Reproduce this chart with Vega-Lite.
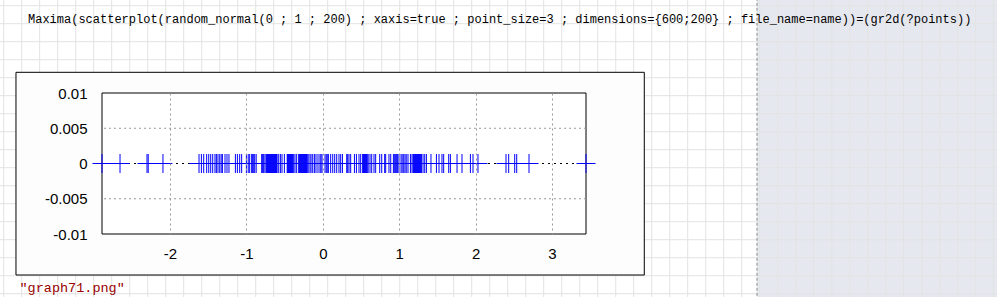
{
  "$schema": "https://vega.github.io/schema/vega-lite/v6.json",
  "width": 484,
  "height": 141,
  "autosize": {"type": "none"},
  "padding": {"left": 102, "top": 93, "right": 411, "bottom": 63},
  "background": "white",
  "title": {
    "text": "Maxima(scatterplot(random_normal(0 ; 1 ; 200) ; xaxis=true ; point_size=3 ; dimensions={600;200} ; file_name=name))=(gr2d(?points))",
    "anchor": "start",
    "frame": "group",
    "dx": -74,
    "offset": 0,
    "dy": 38,
    "baseline": "alphabetic",
    "font": "Liberation Mono",
    "fontSize": 12,
    "fontWeight": "normal",
    "color": "#000000"
  },
  "config": {
    "view": {"stroke": null},
    "axis": {
      "labelFont": "Liberation Sans",
      "labelFontSize": 15,
      "labelColor": "#000000",
      "ticks": false,
      "domain": false,
      "gridColor": "#999999",
      "gridDash": [2, 3],
      "gridWidth": 1
    }
  },
  "datasets": {
    "pts": [
      {"x": -2.89}, {"x": -2.654}, {"x": -2.301}, {"x": -2.285}, {"x": -2.092},
      {"x": -1.620}, {"x": -1.589}, {"x": -1.559}, {"x": -1.520}, {"x": -1.493},
      {"x": -1.467}, {"x": -1.441}, {"x": -1.411}, {"x": -1.393}, {"x": -1.372},
      {"x": -1.349}, {"x": -1.330}, {"x": -1.314}, {"x": -1.280}, {"x": -1.254},
      {"x": -1.228}, {"x": -1.144}, {"x": -1.118}, {"x": -1.088}, {"x": -1.062},
      {"x": -1.000}, {"x": -0.976}, {"x": -0.957}, {"x": -0.931}, {"x": -0.918},
      {"x": -0.904}, {"x": -0.891}, {"x": -0.872}, {"x": -0.800}, {"x": -0.787},
      {"x": -0.774}, {"x": -0.757}, {"x": -0.741}, {"x": -0.734}, {"x": -0.728},
      {"x": -0.721}, {"x": -0.715}, {"x": -0.708}, {"x": -0.702}, {"x": -0.695},
      {"x": -0.688}, {"x": -0.682}, {"x": -0.675}, {"x": -0.669}, {"x": -0.662},
      {"x": -0.656}, {"x": -0.649}, {"x": -0.643}, {"x": -0.636}, {"x": -0.630},
      {"x": -0.623}, {"x": -0.617}, {"x": -0.610}, {"x": -0.604}, {"x": -0.599},
      {"x": -0.577}, {"x": -0.555}, {"x": -0.534}, {"x": -0.503}, {"x": -0.466},
      {"x": -0.459}, {"x": -0.453}, {"x": -0.446}, {"x": -0.440}, {"x": -0.433},
      {"x": -0.427}, {"x": -0.420}, {"x": -0.414}, {"x": -0.407}, {"x": -0.401},
      {"x": -0.394}, {"x": -0.381}, {"x": -0.364}, {"x": -0.342}, {"x": -0.315},
      {"x": -0.309}, {"x": -0.302}, {"x": -0.296}, {"x": -0.289}, {"x": -0.283},
      {"x": -0.276}, {"x": -0.270}, {"x": -0.263}, {"x": -0.257}, {"x": -0.250},
      {"x": -0.243}, {"x": -0.237}, {"x": -0.230}, {"x": -0.224}, {"x": -0.217},
      {"x": -0.211}, {"x": -0.204}, {"x": -0.191}, {"x": -0.168}, {"x": -0.154},
      {"x": -0.132}, {"x": -0.110}, {"x": -0.089}, {"x": -0.063}, {"x": -0.037},
      {"x": -0.024}, {"x": -0.010}, {"x": 0.029}, {"x": 0.045}, {"x": 0.058},
      {"x": 0.073}, {"x": 0.103}, {"x": 0.130}, {"x": 0.156}, {"x": 0.182},
      {"x": 0.212}, {"x": 0.234}, {"x": 0.257}, {"x": 0.313}, {"x": 0.326},
      {"x": 0.343}, {"x": 0.365}, {"x": 0.414}, {"x": 0.440}, {"x": 0.474},
      {"x": 0.496}, {"x": 0.522}, {"x": 0.529}, {"x": 0.535}, {"x": 0.542},
      {"x": 0.548}, {"x": 0.555}, {"x": 0.562}, {"x": 0.568}, {"x": 0.575},
      {"x": 0.581}, {"x": 0.594}, {"x": 0.618}, {"x": 0.640}, {"x": 0.670},
      {"x": 0.692}, {"x": 0.745}, {"x": 0.771}, {"x": 0.810}, {"x": 0.823},
      {"x": 0.866}, {"x": 0.889}, {"x": 0.924}, {"x": 0.941}, {"x": 0.954},
      {"x": 0.967}, {"x": 0.980}, {"x": 0.997}, {"x": 1.024}, {"x": 1.039},
      {"x": 1.059}, {"x": 1.076}, {"x": 1.092}, {"x": 1.115}, {"x": 1.147},
      {"x": 1.168}, {"x": 1.183}, {"x": 1.190}, {"x": 1.196}, {"x": 1.203},
      {"x": 1.209}, {"x": 1.216}, {"x": 1.223}, {"x": 1.230}, {"x": 1.236},
      {"x": 1.243}, {"x": 1.249}, {"x": 1.256}, {"x": 1.262}, {"x": 1.269},
      {"x": 1.275}, {"x": 1.282}, {"x": 1.291}, {"x": 1.312}, {"x": 1.334},
      {"x": 1.356}, {"x": 1.416}, {"x": 1.487}, {"x": 1.521}, {"x": 1.560},
      {"x": 1.582}, {"x": 1.648}, {"x": 1.670}, {"x": 1.757}, {"x": 1.822},
      {"x": 1.932}, {"x": 1.966}, {"x": 2.031}, {"x": 2.398}, {"x": 2.433},
      {"x": 2.512}, {"x": 2.538}, {"x": 2.699}, {"x": 3.445}
    ],
    "wgx": [
      {"gx": -4.177}, {"gx": -3.941}, {"gx": -3.706}, {"gx": -3.470}, {"gx": -3.234},
      {"gx": -2.999}, {"gx": -2.763}, {"gx": -2.527}, {"gx": -2.292}, {"gx": -2.056},
      {"gx": -1.821}, {"gx": -1.585}, {"gx": -1.349}, {"gx": -1.114}, {"gx": -0.878},
      {"gx": -0.643}, {"gx": -0.407}, {"gx": -0.171}, {"gx": 0.064}, {"gx": 0.300},
      {"gx": 0.535}, {"gx": 0.771}, {"gx": 1.007}, {"gx": 1.242}, {"gx": 1.478},
      {"gx": 1.713}, {"gx": 1.949}, {"gx": 2.185}, {"gx": 2.420}, {"gx": 2.656},
      {"gx": 2.891}, {"gx": 3.127}, {"gx": 3.363}, {"gx": 3.598}, {"gx": 3.834},
      {"gx": 4.069}, {"gx": 4.305}, {"gx": 4.541}, {"gx": 4.776}, {"gx": 5.012},
      {"gx": 5.247}, {"gx": 5.483}, {"gx": 5.719}, {"gx": 5.954}, {"gx": 6.190},
      {"gx": 6.425}, {"gx": 6.661}, {"gx": 6.897}, {"gx": 7.132}, {"gx": 7.368},
      {"gx": 7.603}, {"gx": 7.839}, {"gx": 8.075}, {"gx": 8.310}, {"gx": 8.546},
      {"gx": 8.781}
    ],
    "wgy": [
      {"gy": 0.02238}, {"gy": 0.01983}, {"gy": 0.01728}, {"gy": 0.01472}, {"gy": 0.01217},
      {"gy": 0.00962}, {"gy": 0.00706}, {"gy": 0.00451}, {"gy": 0.00196}, {"gy": -0.00060},
      {"gy": -0.00315}, {"gy": -0.00570}, {"gy": -0.00826}, {"gy": -0.01081}, {"gy": -0.01336},
      {"gy": -0.01592}, {"gy": -0.01847}
    ],
    "ygrid": [{"v": -0.005}, {"v": 0.005}],
    "one": [{}]
  },
  "data": {"name": "pts"},
  "layer": [
    {
      "data": {"name": "one"},
      "mark": {"type": "rect", "fill": "#e6e8f0", "stroke": null},
      "encoding": {
        "x": {"datum": 5.683, "type": "quantitative", "scale": {"domain": [-2.89, 3.445], "nice": false, "zero": false},
          "axis": {"zindex": 1, "grid": true, "values": [-2, -1, 0, 1, 2, 3], "format": "~g", "labelExpr": "replace(datum.label, '\u2212', '-')", "labelPadding": 12, "title": "\"graph71.png\"", "titleX": -83, "titleY": 53, "titleAlign": "left", "titleBaseline": "middle", "titleFont": "Liberation Mono", "titleFontSize": 13.5, "titleFontWeight": "normal", "titleColor": "#990000"}},
        "x2": {"datum": 8.9},
        "y": {"datum": 0.0235, "type": "quantitative", "scale": {"domain": [-0.01, 0.01], "nice": false, "zero": false},
          "axis": {"zindex": 1, "grid": false, "tickCount": 4, "format": "~g", "labelExpr": "replace(datum.label, '\u2212', '-')", "labelPadding": 15, "labelOverlap": false, "labelFlush": false, "title": null}},
        "y2": {"datum": -0.0195}
      }
    },
    {
      "data": {"name": "wgx"},
      "mark": {"type": "rule", "color": "#e3e3e3", "strokeWidth": 1},
      "encoding": {
        "x": {"field": "gx", "type": "quantitative", "scale": {"domain": [-2.89, 3.445], "nice": false, "zero": false}},
        "y": {"datum": 0.0235, "type": "quantitative", "scale": {"domain": [-0.01, 0.01], "nice": false, "zero": false}},
        "y2": {"datum": -0.0195}
      }
    },
    {
      "data": {"name": "wgy"},
      "mark": {"type": "rule", "color": "#e3e3e3", "strokeWidth": 1},
      "encoding": {
        "y": {"field": "gy", "type": "quantitative", "scale": {"domain": [-0.01, 0.01], "nice": false, "zero": false}},
        "x": {"datum": -4.25, "type": "quantitative", "scale": {"domain": [-2.89, 3.445], "nice": false, "zero": false}},
        "x2": {"datum": 8.9}
      }
    },
    {
      "data": {"name": "one"},
      "mark": {"type": "rule", "color": "#8a8a8a", "strokeDash": [3, 2], "strokeWidth": 1},
      "encoding": {
        "x": {"datum": 5.683, "type": "quantitative", "scale": {"domain": [-2.89, 3.445], "nice": false, "zero": false}},
        "y": {"datum": 0.0235, "type": "quantitative", "scale": {"domain": [-0.01, 0.01], "nice": false, "zero": false}},
        "y2": {"datum": -0.0195}
      }
    },
    {
      "data": {"name": "one"},
      "mark": {"type": "rect", "fill": "#fdfdfd", "stroke": "#000000", "strokeWidth": 1},
      "encoding": {
        "x": {"datum": -4.016, "type": "quantitative", "scale": {"domain": [-2.89, 3.445], "nice": false, "zero": false}},
        "x2": {"datum": 4.208},
        "y": {"datum": 0.012936, "type": "quantitative", "scale": {"domain": [-0.01, 0.01], "nice": false, "zero": false}},
        "y2": {"datum": -0.015816}
      }
    },
    {
      "data": {"name": "one"},
      "mark": {"type": "rect", "fill": "#ffffff", "stroke": "#000000", "strokeWidth": 1},
      "encoding": {
        "x": {"datum": -2.89, "type": "quantitative", "scale": {"domain": [-2.89, 3.445], "nice": false, "zero": false}},
        "x2": {"datum": 3.445},
        "y": {"datum": 0.01, "type": "quantitative", "scale": {"domain": [-0.01, 0.01], "nice": false, "zero": false}},
        "y2": {"datum": -0.01}
      }
    },
    {
      "data": {"name": "ygrid"},
      "mark": {"type": "rule", "color": "#999999", "strokeDash": [2, 3], "strokeWidth": 1},
      "encoding": {
        "y": {"field": "v", "type": "quantitative", "scale": {"domain": [-0.01, 0.01], "nice": false, "zero": false}}
      }
    },
    {
      "data": {"name": "one"},
      "mark": {"type": "rule", "color": "#000000", "strokeDash": [2, 4], "strokeWidth": 1},
      "encoding": {
        "y": {"datum": 0, "type": "quantitative", "scale": {"domain": [-0.01, 0.01], "nice": false, "zero": false}}
      }
    },
    {
      "mark": {"type": "point", "shape": "M-1,0H1M0,-1V1", "size": 361, "filled": false, "stroke": "#0000ff", "strokeWidth": 1, "opacity": 1},
      "encoding": {
        "x": {"field": "x", "type": "quantitative", "scale": {"domain": [-2.89, 3.445], "nice": false, "zero": false}},
        "y": {"datum": 0, "type": "quantitative", "scale": {"domain": [-0.01, 0.01], "nice": false, "zero": false}}
      }
    }
  ]
}
